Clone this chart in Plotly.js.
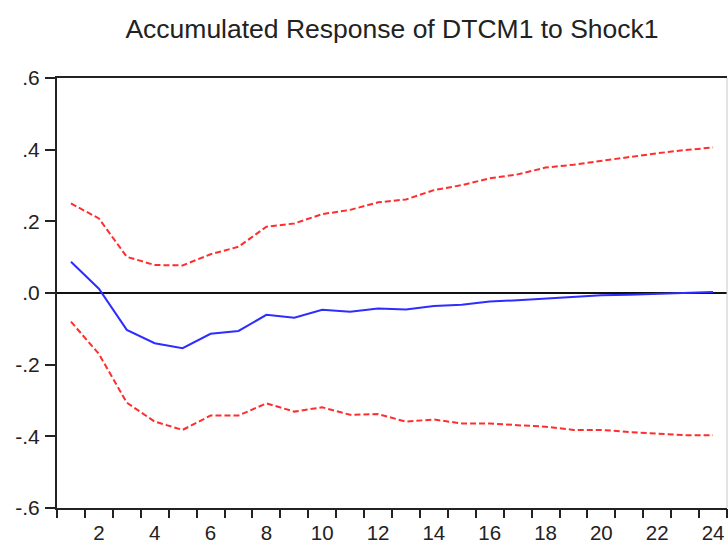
<!DOCTYPE html>
<html>
<head>
<meta charset="utf-8">
<script src="https://cdn.plot.ly/plotly-3.0.1.min.js"></script>
<style>html,body{margin:0;padding:0;background:#fff;}#chart{width:728px;height:545px;}</style>
</head>
<body>
<div id="chart"></div>
<script>
var periods = [1,2,3,4,5,6,7,8,9,10,11,12,13,14,15,16,17,18,19,20,21,22,23,24];
var response = [0.087,0.012,-0.103,-0.140,-0.154,-0.114,-0.106,-0.061,-0.069,-0.047,-0.052,-0.043,-0.046,-0.036,-0.033,-0.024,-0.020,-0.015,-0.012,-0.006,-0.005,-0.003,0.000,0.003];
var upperBand = [0.250,0.208,0.101,0.078,0.077,0.108,0.129,0.185,0.194,0.220,0.232,0.253,0.261,0.287,0.301,0.320,0.331,0.350,0.358,0.369,0.378,0.390,0.399,0.406];
var lowerBand = [-0.080,-0.170,-0.306,-0.359,-0.382,-0.342,-0.342,-0.308,-0.331,-0.319,-0.340,-0.338,-0.359,-0.353,-0.364,-0.364,-0.369,-0.373,-0.382,-0.382,-0.388,-0.393,-0.397,-0.397];
var xTickVals = [2,4,6,8,10,12,14,16,18,20,22,24];
var yTickVals = [-0.6,-0.4,-0.2,0,0.2,0.4,0.6];
var yTickText = ['-.6','-.4','-.2','.0','.2','.4','.6'];
var titleText = 'Accumulated Response of DTCM1 to Shock1';

var font = 'Liberation Sans, Arial, sans-serif';
var traces = [
  {x: periods, y: upperBand, type: 'scatter', mode: 'lines', line: {color: 'rgb(255,45,45)', width: 2, dash: '6px,3px'}, hoverinfo: 'skip'},
  {x: periods, y: lowerBand, type: 'scatter', mode: 'lines', line: {color: 'rgb(255,45,45)', width: 2, dash: '6px,3px'}, hoverinfo: 'skip'},
  {x: periods, y: response, type: 'scatter', mode: 'lines', line: {color: 'rgb(45,45,255)', width: 2}, hoverinfo: 'skip'},
  {x: [periods[0]], y: [response[0]], xaxis: 'x2', type: 'scatter', mode: 'markers', marker: {opacity: 0}, hoverinfo: 'skip'}
];
var layout = {
  width: 728, height: 545,
  margin: {l: 57, r: 1, t: 78, b: 37, pad: 0},
  paper_bgcolor: '#fff', plot_bgcolor: '#fff',
  showlegend: false,
  title: {text: titleText, font: {family: font, size: 26.5, color: '#222'}, x: 0.5, xanchor: 'center', xref: 'paper', y: 1 - 29/545, yref: 'container', yanchor: 'middle'},
  xaxis: {
    range: [0.5, 24.5], tickmode: 'array', tickvals: xTickVals, ticktext: xTickVals.map(String),
    ticks: 'outside', ticklen: 5, tickcolor: 'rgba(0,0,0,0)',
    tickfont: {family: font, size: 20.5, color: '#222'},
    showgrid: false, zeroline: false,
    showline: true, linecolor: '#222', linewidth: 2, mirror: true
  },
  xaxis2: {
    range: [0.5, 24.5], overlaying: 'x', anchor: 'y', side: 'bottom',
    tickmode: 'linear', tick0: 0.5, dtick: 1,
    ticks: 'outside', ticklen: 9, tickwidth: 2, tickcolor: '#222',
    showticklabels: false, showgrid: false, zeroline: false, showline: false
  },
  yaxis: {
    range: [-0.6, 0.6], tickmode: 'array', tickvals: yTickVals, ticktext: yTickText,
    ticks: 'outside', ticklen: 10, tickwidth: 2, tickcolor: '#222',
    tickfont: {family: font, size: 21, color: '#222'},
    ticklabelstandoff: 1,
    showgrid: false, zeroline: true, zerolinecolor: '#111', zerolinewidth: 2,
    showline: true, linecolor: '#222', linewidth: 2, mirror: false
  },
  shapes: [
    {type: 'line', xref: 'paper', yref: 'paper', x0: 1, x1: 1, y0: 0, y1: 1, line: {color: '#c8c8c8', width: 1}}
  ]
};
Plotly.newPlot('chart', traces, layout, {staticPlot: true, displayModeBar: false});
</script>
</body>
</html>
